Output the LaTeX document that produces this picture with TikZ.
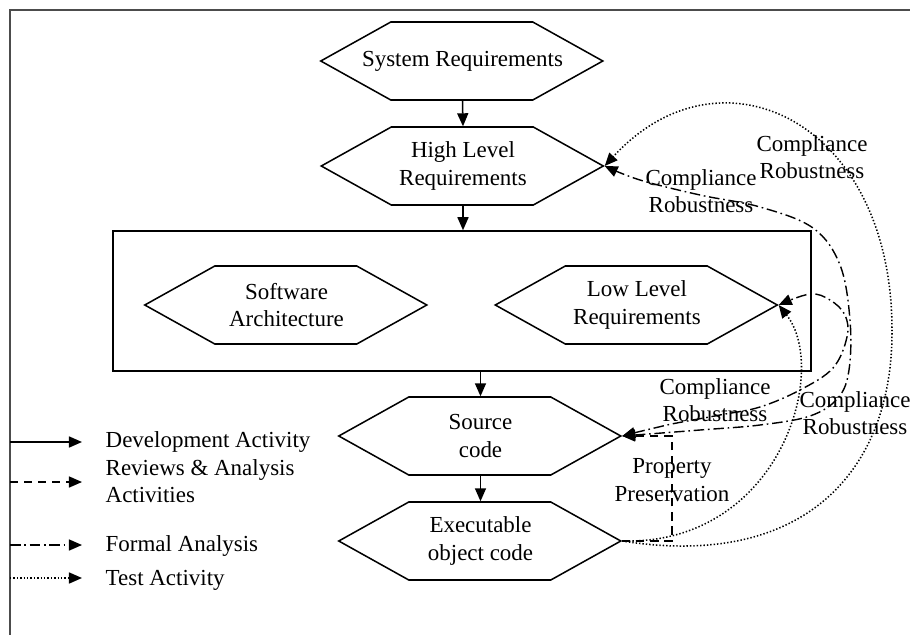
\documentclass[tikz,border=0pt]{standalone}
\usepackage{fontspec}
\setmainfont{Liberation Serif}
\usetikzlibrary{arrows.meta,calc}

% hexagonal box: name, x, y, text (coordinates in pixel-like units)
\newcommand{\hexagonnode}[4]{%
  \node[hexlabel] (#1) at (#2,#3) {#4};
  \draw[hexline] (#1.west) -- ++(70,-39) -- ++(142,0) -- ++(70,39)
    -- ++(-70,39) -- ++(-142,0) -- cycle;
}

\begin{document}
\begin{tikzpicture}[x=0.03cm,y=-0.03cm,
  font=\fontsize{19.6pt}{23.3pt}\selectfont,
  line width=1.2pt,
  hexlabel/.style={minimum width=8.46cm,minimum height=2.34cm,inner sep=0pt,align=center},
  hexline/.style={line width=1.3pt,line join=miter},
  tip/.tip={Triangle[length=0.39cm,width=0.33cm]},
  devline/.style={line width=1.3pt},
  reviewline/.style={dash pattern=on 7pt off 5pt},
  formalline/.style={dash pattern=on 9pt off 3.2pt on 1.4pt off 3.2pt},
  testline/.style={line width=1.3pt,dash pattern=on 1.2pt off 1.7pt},
  lbl/.style={align=center,inner sep=0pt},
  legendtext/.style={anchor=west,align=left,inner sep=0pt},
]
\useasboundingbox (0,0) rectangle (910,635);

% outer frame (top and left edges only)
\draw[line width=1.3pt,black!70] (10,635) -- (10,10) -- (910,10);

% life-cycle data
\hexagonnode{sys}{462.5}{61}{System Requirements}
\hexagonnode{hlr}{463}{166}{High Level\\Requirements}
\node[draw,line width=1.3pt,minimum width=20.94cm,minimum height=4.2cm,inner sep=0pt] (grp) at (462,301) {};
\hexagonnode{swa}{286.5}{305}{Software\\Architecture}
\hexagonnode{llr}{637}{305}{Low Level\\Requirements}
\hexagonnode{src}{480.5}{436}{Source\\code}
\hexagonnode{exe}{480.5}{541}{Executable\\object code}

% development activities
\draw[devline,-{tip}] (sys.south) -- (hlr.north);
\draw[devline,-{tip}] (hlr.south) -- (hlr.south |- grp.north);
\draw[devline,-{tip}] (src.north |- grp.south) -- (src.north);
\draw[devline,-{tip}] (src.south) -- (exe.north);

% test activities
\draw[testline,-{tip}] (exe.east) .. controls (805,570) and (893,470) .. (892,330)
  .. controls (892,120) and (720,40) .. (hlr.east);
\draw[testline,-{tip}] (exe.east) .. controls (780,545) and (830,370) .. (llr.east);

% property preservation
\draw[reviewline,-{tip}] (exe.east) -- (672,541) -- (672,436) -- (src.east);

% formal analysis
\draw[formalline,{tip}-{tip}] plot[smooth,tension=0.6] coordinates {(src.east) (700,430) (760,425) (810,416) (838,398) (849,370) (850,320) (840,265) (813,228) (760,207) (700,195) (640,180) (hlr.east)};
\draw[formalline,{tip}-{tip}] plot[smooth,tension=0.6] coordinates {(src.east) (667,425) (720,415) (760,407) (800,390) (833,368) (847,337) (845,315) (830,300) (810,294) (llr.east)};

% labels
\node[lbl] (lab1) at (812,157) {Compliance\\Robustness};
\node[lbl] (lab2) at (701,191) {Compliance\\Robustness};
\node[lbl] (lab3) at (715,400) {Compliance\\Robustness};
\node[lbl] (lab4) at (855,413) {Compliance\\Robustness};
\node[lbl] (lab5) at (672,480) {Property\\Preservation};

% legend
\coordinate (l1a) at (10,442); \coordinate (l1b) at (82,442);
\coordinate (l2a) at (10,482); \coordinate (l2b) at (82,482);
\coordinate (l3a) at (10,545); \coordinate (l3b) at (82,545);
\coordinate (l4a) at (10,578); \coordinate (l4b) at (82,578);
\draw[devline,-{tip}] (l1a) -- (l1b);
\draw[reviewline,-{tip}] (l2a) -- (l2b);
\draw[formalline,-{tip}] (l3a) -- (l3b);
\draw[testline,-{tip}] (l4a) -- (l4b);
\node[legendtext] (t1) at (105,442) {Development Activity};
\node[legendtext] (t2) at (105,481) {Reviews \& Analysis\\Activities};
\node[legendtext] (t3) at (105,546) {Formal Analysis};
\node[legendtext] (t4) at (105,580) {Test Activity};
\end{tikzpicture}
\end{document}
